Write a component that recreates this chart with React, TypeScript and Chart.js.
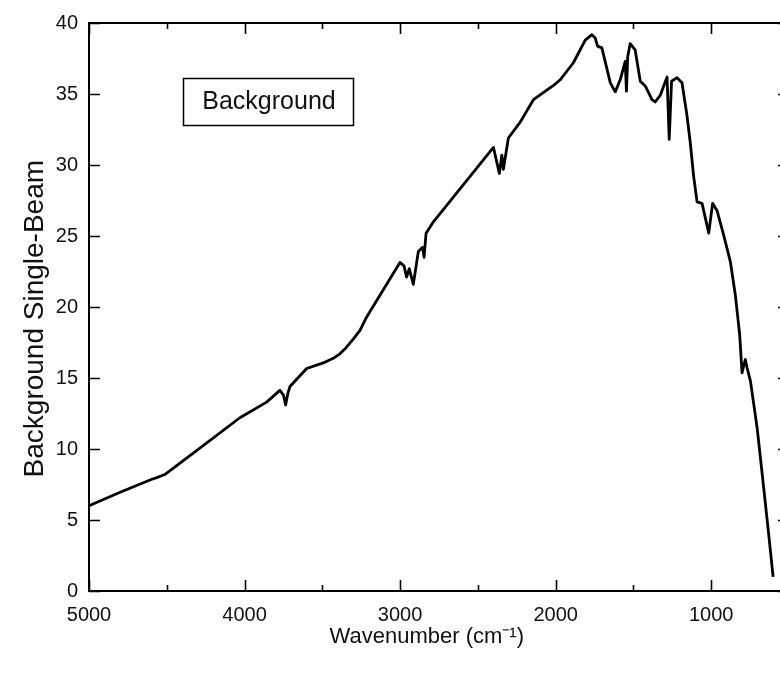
import React, { useEffect, useRef } from "react";
import { Chart, registerables } from "chart.js";
Chart.register(...registerables);

const wavenumbers = [
  5000, 4800, 4600, 4560, 4513, 4300, 4030, 3858, 3773, 3750, 3736, 3722, 3708, 3601, 3494, 3420, 3387, 3350,
  3300, 3258, 3215, 3001, 2975, 2958, 2941, 2915, 2883, 2855, 2846, 2833, 2786, 2400, 2362, 2346, 2336, 2304,
  2229, 2143, 2014, 1971, 1886, 1810, 1767, 1746, 1731, 1703, 1649, 1617, 1585, 1553, 1545, 1537, 1521, 1489,
  1456, 1424, 1381, 1360, 1328, 1284, 1270, 1255, 1220, 1188, 1156, 1135, 1113, 1091, 1059, 1016, 991, 963, 920,
  877, 845, 817, 802, 781, 769, 748, 705, 663, 631, 602,
];
const singleBeam = [
  6.0, 6.95, 7.85, 8.0, 8.2, 9.95, 12.2, 13.3, 14.13, 13.8, 13.1, 13.9, 14.4, 15.67, 16.06, 16.45, 16.7, 17.1,
  17.75, 18.35, 19.3, 23.14, 22.9, 22.1, 22.7, 21.6, 23.9, 24.2, 23.5, 25.2, 26.0, 31.24, 29.4, 30.7, 29.7, 31.9,
  33.0, 34.6, 35.6, 36.0, 37.2, 38.8, 39.18, 38.95, 38.37, 38.25, 35.8, 35.15, 36.0, 37.3, 35.2, 37.6, 38.55, 38.1,
  35.9, 35.57, 34.6, 34.44, 34.9, 36.2, 31.8, 35.9, 36.15, 35.8, 33.5, 31.6, 29.2, 27.4, 27.3, 25.2, 27.3, 26.8, 25.06,
  23.2, 20.85, 18.05, 15.36, 16.3, 15.7, 14.8, 11.5, 7.3, 4.04, 1.0,
];
const xMajorTicks = [5000, 4000, 3000, 2000, 1000];
const xMinorTicks = [4500, 3500, 2500, 1500, 500];
const yMajorTicks = [0, 5, 10, 15, 20, 25, 30, 35, 40];
const legendLabel = "Background";
const xTitle = "Wavenumber (cm\u207B\u00B9)    ";
const yTitle = "Background Single-Beam   ";

const FONT = "'Liberation Sans', Arial, Helvetica, sans-serif";

export default function App() {
  const ref = useRef<HTMLCanvasElement | null>(null);
  useEffect(() => {
    const canvas = ref.current!;
    const framePlugin = {
      id: "frame",
      afterDraw(chart: any) {
        const { ctx, chartArea: a, scales } = chart;
        const xs = scales.x, ys = scales.y;
        ctx.save();
        ctx.strokeStyle = "#000";
        ctx.lineWidth = 2;
        ctx.strokeRect(a.left, a.top, a.right - a.left, a.bottom - a.top);
        ctx.lineWidth = 1.6;
        ctx.beginPath();
        const xt = (v: number, len: number) => {
          const px = Math.round(xs.getPixelForValue(v)) + 0.5;
          ctx.moveTo(px, a.bottom);
          ctx.lineTo(px, a.bottom - len);
          ctx.moveTo(px, a.top);
          ctx.lineTo(px, a.top + len);
        };
        xMajorTicks.forEach((v) => xt(v, 11));
        xMinorTicks.forEach((v) => xt(v, 6));
        yMajorTicks.forEach((v) => {
          const py = Math.round(ys.getPixelForValue(v)) + 0.5;
          ctx.moveTo(a.left, py);
          ctx.lineTo(a.left + 11, py);
          ctx.moveTo(a.right, py);
          ctx.lineTo(a.right - 11, py);
        });
        ctx.stroke();
        // legend box
        ctx.lineWidth = 1.5;
        ctx.strokeRect(183.5, 78.5, 170, 47);
        ctx.fillStyle = "#111";
        ctx.font = `25px ${FONT}`;
        ctx.textAlign = "center";
        ctx.textBaseline = "middle";
        ctx.fillText(legendLabel, 269, 102);
        ctx.restore();
      },
    };
    const chart = new Chart(canvas, {
      type: "line",
      data: {
        datasets: [
          {
            data: wavenumbers.map((w, i) => ({ x: w, y: singleBeam[i] })),
            borderColor: "#000",
            borderWidth: 2.8,
            pointRadius: 0,
            tension: 0,
            borderJoinStyle: "round",
            fill: false,
          },
        ],
      },
      options: {
        animation: false,
        responsive: false,
        devicePixelRatio: 1,
        layout: { padding: { left: 0, right: 11, top: 20, bottom: 0 } },
        plugins: { legend: { display: false }, tooltip: { enabled: false } },
        scales: {
          x: {
            type: "linear",
            reverse: true,
            min: 500,
            max: 5000,
            afterBuildTicks: (s: any) => {
              s.ticks = xMajorTicks.map((v) => ({ value: v }));
            },
            afterFit: (s: any) => {
              s.height = 89;
            },
            grid: { display: false, drawTicks: false },
            border: { display: false },
            ticks: {
              color: "#111",
              font: { family: FONT, size: 20 },
              padding: 12,
              maxRotation: 0,
              callback: (v: any) => String(v),
            },
            title: {
              display: true,
              text: xTitle,
              color: "#111",
              font: { family: FONT, size: 22 },
              padding: { top: 0, bottom: 30 },
            },
          },
          y: {
            type: "linear",
            min: 0,
            max: 40,
            afterBuildTicks: (s: any) => {
              s.ticks = yMajorTicks.map((v) => ({ value: v }));
            },
            afterFit: (s: any) => {
              s.width = 89;
            },
            grid: { display: false, drawTicks: false },
            border: { display: false },
            ticks: {
              color: "#111",
              font: { family: FONT, size: 20 },
              padding: 11,
              callback: (v: any) => String(v),
            },
            title: {
              display: true,
              text: yTitle,
              color: "#111",
              font: { family: FONT, size: 28 },
              padding: { top: 18, bottom: 0 },
            },
          },
        },
      },
      plugins: [framePlugin],
    });
    return () => chart.destroy();
  }, []);
  return (
    <div style={{ position: "fixed", left: 0, top: 0, width: 780, height: 680, overflow: "hidden", background: "#fff" }}>
      <canvas ref={ref} width={800} height={680} style={{ width: 800, height: 680, display: "block" }} />
    </div>
  );
}
